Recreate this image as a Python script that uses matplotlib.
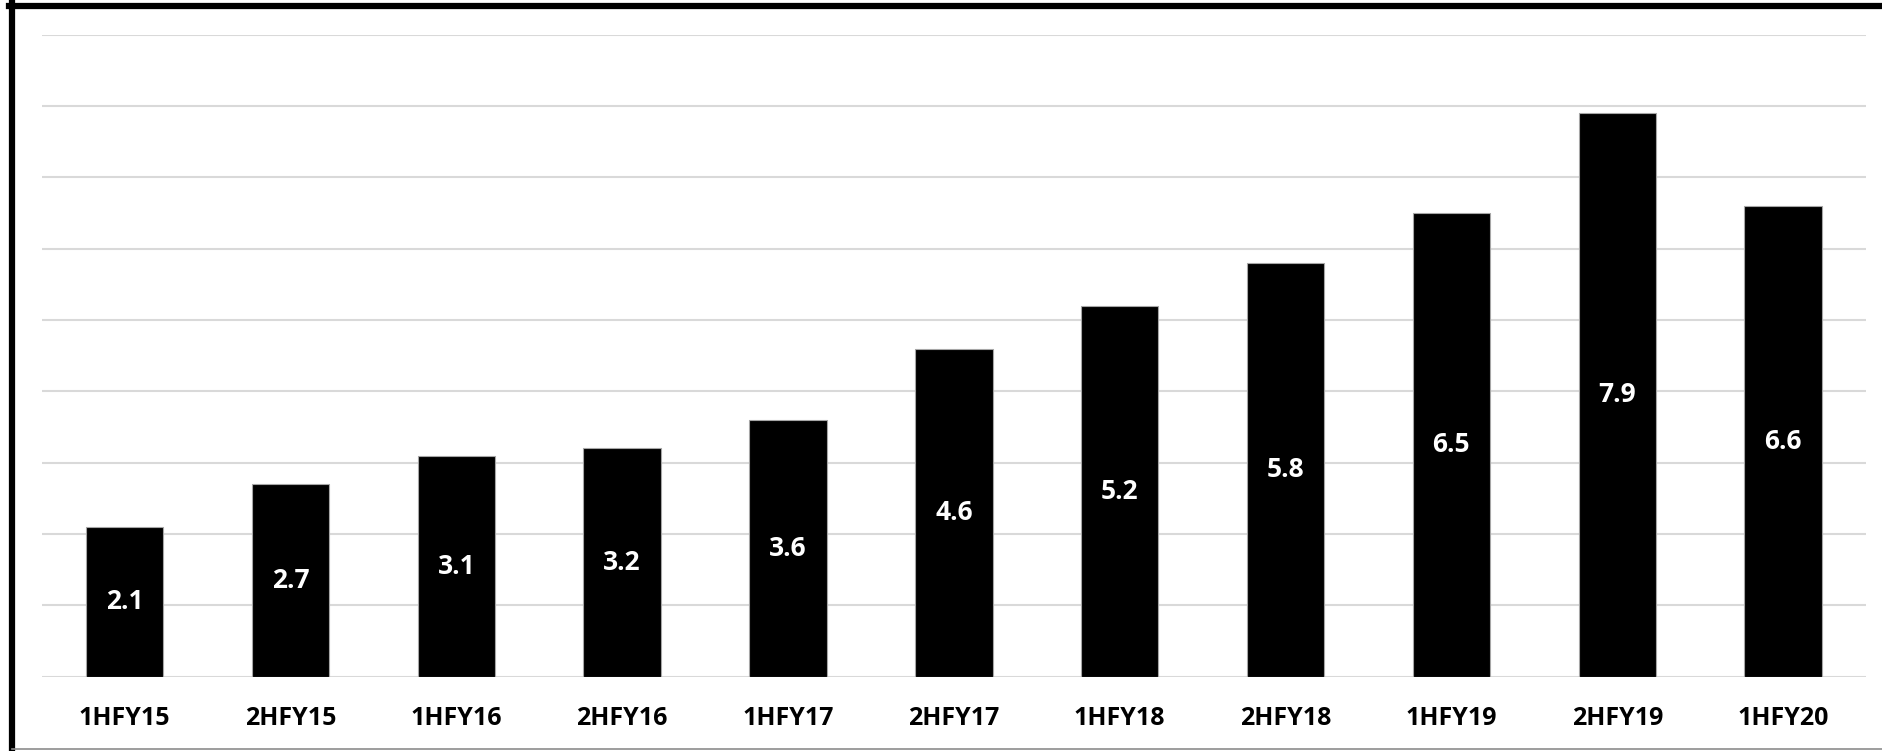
import matplotlib.pyplot as plt
from matplotlib.lines import Line2D

# Períodos semestrais e valores
periodos = ['1HFY15', '2HFY15', '1HFY16', '2HFY16', '1HFY17', '2HFY17',
            '1HFY18', '2HFY18', '1HFY19', '2HFY19', '1HFY20']
valores = [2.1, 2.7, 3.1, 3.2, 3.6, 4.6, 5.2, 5.8, 6.5, 7.9, 6.6]

plt.rcParams['font.family'] = ['Open Sans', 'DejaVu Sans']

fig = plt.figure(figsize=(18.82, 7.51), dpi=100)
ax = fig.add_axes([0.0222, 0.0989, 0.9693, 0.8549])

x = range(len(periodos))
barras = ax.bar(x, valores, width=0.467, color='black', edgecolor='#a6a6a6',
                linewidth=0.8, zorder=3)

# Rótulos de valor no meio de cada barra
for barra, v in zip(barras, valores):
    ax.text(barra.get_x() + barra.get_width() / 2, v / 2, '{:.1f}'.format(v),
            ha='center', va='center', color='white', fontsize=19,
            fontweight='bold', zorder=4)

ax.set_xlim(-0.5, len(periodos) - 0.5)
ax.set_ylim(0, 9)
ax.set_yticks(range(0, 10))
ax.yaxis.grid(True, color='#d9d9d9', linewidth=1.5, zorder=0)
ax.set_yticklabels([])
ax.tick_params(axis='both', length=0)
ax.set_xticks(list(x))
ax.set_xticklabels(periodos, fontsize=18, fontweight='bold')
ax.tick_params(axis='x', pad=21)
for lado in ax.spines.values():
    lado.set_visible(False)

# Moldura: esquerda e topo grossas, base fina
fig.add_artist(Line2D([12 / 1882, 12 / 1882], [0, 1 - 3 / 751], color='black',
                      linewidth=4.5, transform=fig.transFigure))
fig.add_artist(Line2D([9 / 1882, 1], [1 - 6 / 751, 1 - 6 / 751], color='black',
                      linewidth=4.5, transform=fig.transFigure))
fig.add_artist(Line2D([12 / 1882, 1], [1 - 748.5 / 751, 1 - 748.5 / 751],
                      color='#8c8c8c', linewidth=1.2, transform=fig.transFigure))

plt.savefig('out.png', dpi=100)
